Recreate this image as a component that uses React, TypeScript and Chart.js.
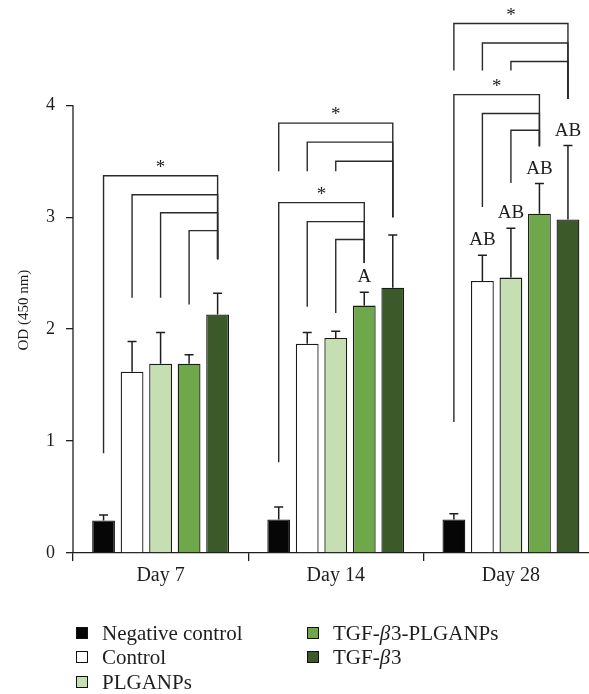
import React, { useEffect, useRef } from "react";
import { Chart, registerables } from "chart.js";

Chart.register(...registerables);

const categories = ["Day 7", "Day 14", "Day 28"];
const seriesNames = ["Negative control", "Control", "PLGANPs", "TGF-β3-PLGANPs", "TGF-β3"];
const seriesColors = ["#060606", "#ffffff", "#c5dfb3", "#6fa84a", "#3b5929"];

const negativeControl = [0.29, 0.3, 0.3];
const control = [1.62, 1.87, 2.43];
const plganps = [1.69, 1.92, 2.46];
const tgfPlganps = [1.69, 2.21, 3.03];
const tgf = [2.13, 2.37, 2.98];

const negativeControlErr = [0.05, 0.11, 0.05];
const controlErr = [0.27, 0.1, 0.23];
const plganpsErr = [0.28, 0.06, 0.44];
const tgfPlganpsErr = [0.08, 0.12, 0.27];
const tgfErr = [0.19, 0.47, 0.66];

const yTicks = [0, 1, 2, 3, 4];
const yMax = 4.94;
const yTitle = "OD (450 nm)";
const yTitleValue = 2.17;

// significance brackets: category, from series, to series, top level, end of left leg, end of right leg, star
const bracketCat = [0, 0, 0, 0, 1, 1, 1, 1, 1, 1, 2, 2, 2, 2, 2, 2];
const bracketFrom = [0, 1, 2, 3, 0, 1, 2, 0, 1, 2, 0, 1, 2, 0, 1, 2];
const bracketTo = [4, 4, 4, 4, 4, 4, 4, 3, 3, 3, 4, 4, 4, 3, 3, 3];
const bracketTop = [3.37, 3.2, 3.04, 2.88, 3.84, 3.67, 3.5, 3.13, 2.96, 2.8, 4.73, 4.556, 4.39, 4.095, 3.926, 3.777];
const bracketFromEnd = [0.89, 2.28, 2.28, 2.22, 3.41, 3.41, 3.41, 0.81, 2.2, 2.145, 4.31, 4.31, 4.31, 1.17, 3.09, 3.306];
const bracketToEnd = [2.625, 2.625, 2.625, 2.625, 3.0, 3.0, 3.0, 2.59, 2.59, 2.59, 4.056, 4.056, 4.056, 3.634, 3.634, 3.634];
const bracketStar = [true, false, false, false, true, false, false, true, false, false, true, false, false, true, false, false];

// letter annotations above error bars
const letterSeries = [3, 1, 2, 3, 4];
const letterCat = [1, 2, 2, 2, 2];
const letterText = ["A", "AB", "AB", "AB", "AB"];

const FONT = "'Liberation Serif', 'DejaVu Serif', serif";
const INK = "#1e1e1e";

const values = [negativeControl, control, plganps, tgfPlganps, tgf];
const errors = [negativeControlErr, controlErr, plganpsErr, tgfPlganpsErr, tgfErr];

function drawMixed(ctx: CanvasRenderingContext2D, text: string, x: number, y: number, size: number) {
  const parts = text.split("β");
  let cx = x;
  parts.forEach((p, i) => {
    ctx.font = `${size}px ${FONT}`;
    ctx.fillText(p, cx, y);
    cx += ctx.measureText(p).width;
    if (i < parts.length - 1) {
      ctx.font = `italic ${size}px ${FONT}`;
      ctx.fillText("β", cx, y);
      cx += ctx.measureText("β").width + 1;
    }
  });
}

const overlayPlugin = {
  id: "overlay",
  afterDatasetsDraw(chart: any) {
    const ctx: CanvasRenderingContext2D = chart.ctx;
    const y = chart.scales.y;
    const area = chart.chartArea;
    ctx.save();
    // y axis line from 0 to top tick
    ctx.strokeStyle = INK;
    ctx.lineWidth = 1.3;
    ctx.beginPath();
    ctx.moveTo(area.left, y.getPixelForValue(0));
    ctx.lineTo(area.left, y.getPixelForValue(yTicks[yTicks.length - 1]));
    ctx.stroke();

    // error bars
    ctx.lineWidth = 1.5;
    values.forEach((vals, s) => {
      const meta = chart.getDatasetMeta(s);
      vals.forEach((v, c) => {
        const bar = meta.data[c];
        const top = y.getPixelForValue(v + errors[s][c]);
        const base = y.getPixelForValue(v);
        ctx.beginPath();
        ctx.moveTo(bar.x, base);
        ctx.lineTo(bar.x, top);
        ctx.moveTo(bar.x - 4.5, top);
        ctx.lineTo(bar.x + 4.5, top);
        ctx.stroke();
      });
    });

    // brackets
    ctx.strokeStyle = "#2a2a2a";
    ctx.lineWidth = 1.4;
    ctx.fillStyle = INK;
    ctx.textAlign = "center";
    ctx.textBaseline = "alphabetic";
    bracketCat.forEach((c, i) => {
      const x1 = chart.getDatasetMeta(bracketFrom[i]).data[c].x;
      const x2 = chart.getDatasetMeta(bracketTo[i]).data[c].x;
      const yt = y.getPixelForValue(bracketTop[i]);
      ctx.beginPath();
      ctx.moveTo(x1, y.getPixelForValue(bracketFromEnd[i]));
      ctx.lineTo(x1, yt);
      ctx.lineTo(x2, yt);
      ctx.lineTo(x2, y.getPixelForValue(bracketToEnd[i]));
      ctx.stroke();
      if (bracketStar[i]) {
        ctx.font = `19px ${FONT}`;
        ctx.fillText("*", (x1 + x2) / 2, yt - 3);
      }
    });

    // letters
    ctx.font = `19px ${FONT}`;
    letterSeries.forEach((s, i) => {
      const c = letterCat[i];
      const bar = chart.getDatasetMeta(s).data[c];
      const cap = y.getPixelForValue(values[s][c] + errors[s][c]);
      ctx.fillText(letterText[i], bar.x, cap - 10);
    });

    // y title
    ctx.save();
    ctx.translate(24, y.getPixelForValue(yTitleValue));
    ctx.rotate(-Math.PI / 2);
    ctx.font = `15px ${FONT}`;
    ctx.textBaseline = "middle";
    ctx.fillText(yTitle, 0, 0);
    ctx.restore();

    // legend
    const rows = [80, 104, 129];
    const cols = [3, 234];
    ctx.textAlign = "left";
    ctx.textBaseline = "middle";
    seriesNames.forEach((name, i) => {
      const col = i < 3 ? 0 : 1;
      const row = i < 3 ? i : i - 3;
      const sx = area.left + cols[col];
      const sy = area.bottom + rows[row];
      ctx.fillStyle = seriesColors[i];
      ctx.fillRect(sx, sy - 6, 12, 12);
      ctx.strokeStyle = "#111";
      ctx.lineWidth = 1;
      ctx.strokeRect(sx + 0.5, sy - 5.5, 11, 11);
      ctx.fillStyle = INK;
      drawMixed(ctx, name, sx + 26, sy + 1, 21);
    });
    ctx.restore();
  },
};

export default function App() {
  const ref = useRef<HTMLCanvasElement | null>(null);
  useEffect(() => {
    if (!ref.current) return;
    const chart = new Chart(ref.current, {
      type: "bar",
      data: {
        labels: categories,
        datasets: seriesNames.map((name, i) => ({
          label: name,
          data: values[i],
          backgroundColor: seriesColors[i],
          borderColor: "#1a1a1a",
          borderWidth: 1.3,
          categoryPercentage: 0.814,
          barPercentage: 0.8,
        })),
      },
      options: {
        responsive: false,
        animation: false,
        layout: { padding: { left: 0, right: 11.5, top: 0, bottom: 0 } },
        plugins: { legend: { display: false }, tooltip: { enabled: false } },
        scales: {
          x: {
            grid: { offset: true, drawOnChartArea: false, tickLength: 8, color: INK, lineWidth: 1.3 },
            border: { display: true, color: INK, width: 1.3 },
            ticks: { font: { family: FONT, size: 20 }, color: INK, padding: 3 },
            afterFit: (s: any) => {
              s.height = 141;
              s.paddingLeft = 0;
              s.paddingRight = 0;
            },
          },
          y: {
            min: 0,
            max: yMax,
            afterBuildTicks: (s: any) => {
              s.ticks = yTicks.map((v) => ({ value: v }));
            },
            grid: { drawOnChartArea: false, tickLength: 7, color: INK, lineWidth: 1.3 },
            border: { display: false },
            ticks: { font: { family: FONT, size: 18 }, color: INK, padding: 11 },
            afterFit: (s: any) => {
              s.width = 73;
              s.paddingTop = 0;
              s.paddingBottom = 0;
            },
          },
        },
      },
      plugins: [overlayPlugin],
    });
    return () => chart.destroy();
  }, []);
  return (
    <div style={{ position: "absolute", left: 0, top: 0, width: 589, height: 694, overflow: "hidden", background: "#fff" }}>
      <canvas ref={ref} width={610} height={694} style={{ display: "block" }} />
    </div>
  );
}
